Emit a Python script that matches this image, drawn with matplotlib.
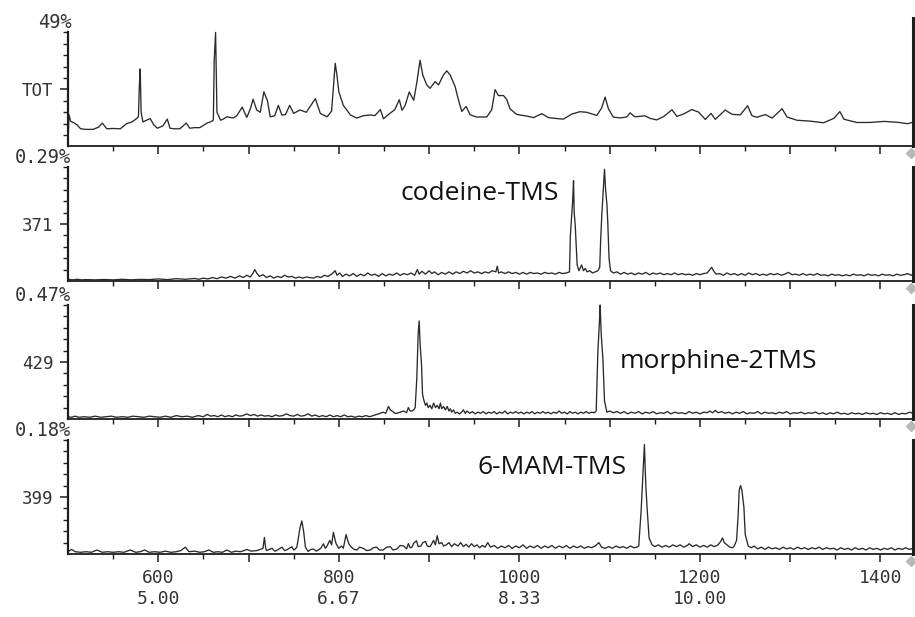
import matplotlib.pyplot as plt
import numpy as np
from matplotlib.ticker import FixedLocator

# scan range and axis labels
x_min, x_max = 500, 1436
x_major = [600, 700, 800, 900, 1000, 1100, 1200, 1300, 1400]
x_minor = [550, 650, 750, 850, 950, 1050, 1150, 1250, 1350]
x_labels = ['600\n5.00', '', '800\n6.67', '', '1000\n8.33', '', '1200\n10.00', '', '1400']

panel_top = ['49%', '0.29%', '0.47%', '0.18%']
panel_name = ['TOT', '371', '429', '399']
peak_names = ['', 'codeine-TMS', 'morphine-2TMS', '6-MAM-TMS']

# traces: (scan, % of full scale)
tot = [(500, 0), (501, 28), (503, 22), (506, 21), (510, 19), (514, 15.5), (520, 15), (528, 15),
       (534, 17), (538, 20.5), (543, 15.5), (550, 15.8), (558, 15.5), (565, 20), (571, 21.5),
       (576, 24.5), (578, 26), (579, 52), (580, 68), (581, 30), (583, 21.5), (587, 23),
       (591, 24.5), (595, 19), (599, 16), (605, 18), (610, 24), (613, 16), (618, 15.5),
       (624, 15.5), (631, 20.5), (635, 16), (640, 16.5), (646, 16.5), (654, 20.5), (659, 22),
       (661, 23), (662, 76), (663.5, 100), (665, 30), (669, 23), (672, 24), (676, 26), (683, 25),
       (687, 27), (693, 34.5), (698, 25.5), (702, 33), (705, 41.5), (709, 32), (713, 30),
       (717, 48), (719, 44), (721, 40), (724, 26), (729, 27), (733, 36), (737, 27.5), (741, 28),
       (745.5, 36), (750, 29), (757, 32), (764, 30), (774, 42), (779.5, 29), (787, 26), (792, 31),
       (796, 73), (798, 62), (800, 48), (805, 36), (813, 27.5), (820, 24.9), (827, 27),
       (835, 27.6), (840, 27.1), (846, 32.4), (849.5, 24.3), (857, 29.3), (862, 32.3), (867, 41),
       (870, 31.7), (873.5, 36.1), (878, 47.8), (883, 40.5), (886.5, 56.6), (890, 75.7),
       (893, 62.6), (897.5, 53.9), (901, 51), (906.7, 56.9), (910.4, 54), (916, 62.8),
       (919.6, 66.3), (923.3, 62.8), (928.8, 52.6), (932.5, 40.9), (936.2, 30.7), (941, 35.1),
       (945.4, 27.8), (952.8, 25.8), (963.9, 25.9), (969.4, 32.3), (973.1, 49.9), (976.8, 44.6),
       (982.3, 44.7), (986, 41.2), (989.7, 33), (997, 28.1), (1008, 26.7), (1015.6, 25.3),
       (1024.8, 28.8), (1032.2, 25.3), (1041.4, 24.5), (1048.8, 24), (1058, 28.4), (1067, 30.5),
       (1074.6, 30), (1085.7, 27.2), (1091, 33.6), (1095, 43.3), (1098.6, 33.1), (1104, 25.8),
       (1111.5, 25), (1119, 25.9), (1122.6, 29.5), (1128, 26), (1132, 26.3), (1139, 26.9),
       (1145, 24.6), (1152, 23.3), (1160, 26.3), (1169, 32.2), (1174.5, 26.4), (1182, 28.5),
       (1191, 32.4), (1198.6, 30.1), (1206, 23.7), (1212.3, 29), (1217, 23.8), (1228, 32),
       (1235.5, 28.2), (1244.7, 27.7), (1252.8, 35.7), (1257.6, 27), (1263, 25.6), (1272.5, 28),
       (1280, 24.9), (1291, 33.1), (1296.5, 25.8), (1307.6, 23), (1322.4, 22.2), (1337, 20.8),
       (1348.4, 24.7), (1355, 30.6), (1359.5, 23.9), (1374, 21), (1389, 21.1), (1404, 22),
       (1419, 21.2), (1430, 20), (1436, 21.2)]

ion371 = [(500, 1.5), (505, 1), (510, 1.5), (515, 1), (520, 1.2), (530, 1), (540, 1.3), (550, 1),
          (560, 1.5), (570, 1), (580, 1.4), (590, 1.2), (600, 1.8), (610, 1.2), (620, 2), (630, 1.5),
          (640, 2.2), (645, 1.5), (650, 2.5), (655, 1.8), (660, 3), (665, 2), (670, 3.5), (675, 2.5),
          (680, 4), (685, 2.5), (690, 4.5), (694, 3), (698, 5), (702, 3.5), (705, 7), (707, 10),
          (709, 7), (712, 4), (716, 5.5), (720, 3), (724, 4.5), (728, 2.5), (732, 4), (736, 3),
          (740, 5), (744, 3.5), (748, 4), (752, 2.5), (756, 3.5), (760, 2.5), (764, 3.5), (768, 3),
          (772, 2.5), (776, 4), (780, 3), (784, 5), (788, 4), (792, 6), (796, 9), (798, 5), (801, 7),
          (804, 4), (808, 6), (812, 4.5), (816, 6.5), (820, 4), (824, 6), (828, 4.5), (832, 7),
          (836, 5), (840, 6), (844, 4), (848, 6.5), (852, 4.5), (856, 6), (860, 5), (864, 7),
          (868, 5), (872, 6.5), (876, 5.5), (880, 7), (884, 5), (887, 10), (889, 6), (892, 8.5),
          (896, 6), (900, 9), (903, 6.5), (906, 8), (910, 5.5), (914, 7.5), (918, 6), (922, 8),
          (926, 6), (930, 8), (934, 6.5), (938, 8.5), (942, 7), (946, 9), (950, 7), (954, 8),
          (958, 6.5), (962, 8), (966, 7), (970, 9), (974, 8), (975.5, 13), (977, 7), (980, 8),
          (984, 6.5), (988, 8), (992, 6.5), (996, 7.5), (1000, 6), (1004, 7.5), (1008, 6),
          (1012, 7.5), (1016, 6.5), (1020, 7), (1024, 6), (1028, 7.5), (1032, 6.5), (1036, 7),
          (1040, 6), (1044, 7.5), (1048, 6.5), (1052, 7), (1055.5, 8), (1056.5, 40), (1057.5, 52),
          (1059, 70), (1060, 88), (1060.7, 60), (1061.8, 50), (1063, 30), (1064, 14), (1066, 9),
          (1069, 14), (1071, 9), (1073, 11), (1075, 8), (1078, 9), (1081, 7), (1084, 8), (1087, 9),
          (1089, 12), (1090, 35), (1091.3, 58), (1093, 80), (1094.3, 98), (1095.5, 80), (1097, 67),
          (1098, 50), (1099.3, 20), (1101, 9), (1104, 7), (1108, 8), (1112, 6), (1116, 7.5),
          (1120, 6), (1124, 7), (1128, 5.5), (1132, 7), (1136, 6), (1140, 7.5), (1144, 5.5),
          (1148, 7), (1152, 6), (1156, 7), (1160, 5.5), (1164, 6.5), (1168, 5.5), (1172, 7),
          (1176, 5.5), (1180, 6.5), (1184, 5.5), (1188, 6), (1192, 5), (1196, 6.5), (1200, 5.5),
          (1204, 6.5), (1208, 7), (1211, 10), (1213, 12), (1215, 9), (1218, 6), (1222, 6.5),
          (1226, 5), (1230, 7), (1234, 5.5), (1238, 6.5), (1242, 5), (1246, 6.5), (1250, 5),
          (1254, 7), (1258, 5.5), (1262, 6.5), (1266, 5), (1270, 6), (1274, 5), (1278, 6.5),
          (1282, 5.5), (1286, 6.5), (1290, 5), (1294, 6), (1298, 7.5), (1302, 5.5), (1306, 6),
          (1310, 5), (1314, 6.5), (1318, 5), (1322, 6), (1326, 5), (1330, 6.5), (1334, 5),
          (1338, 5.5), (1342, 4.5), (1346, 6), (1350, 5), (1354, 5.5), (1358, 4.5), (1362, 5.5),
          (1366, 4.5), (1370, 6), (1374, 5), (1378, 5.5), (1382, 4.5), (1386, 6), (1390, 5),
          (1394, 5.5), (1398, 4.5), (1402, 6), (1406, 5), (1410, 5.5), (1414, 4.5), (1418, 6),
          (1422, 5), (1426, 5.5), (1430, 6.5), (1434, 5), (1436, 6)]

ion429 = [(500, 2), (504, 1.5), (508, 2.5), (512, 1.5), (518, 2), (524, 1.5), (530, 2.5), (536, 1.5),
          (542, 2), (548, 2.5), (554, 1.5), (560, 2), (566, 1.5), (572, 2.5), (578, 2), (584, 1.5),
          (590, 2.5), (596, 2), (602, 1.5), (608, 2.5), (614, 1.5), (620, 3), (626, 2), (632, 2.5),
          (638, 1.5), (644, 3), (650, 2), (654, 4), (658, 2.5), (662, 3), (666, 2), (670, 3.5),
          (674, 2), (678, 3), (682, 2), (686, 3.5), (690, 2.5), (694, 3), (698, 4.5), (702, 3),
          (706, 4), (710, 2.5), (714, 3.5), (718, 2.5), (722, 3), (726, 2), (730, 3.5), (734, 2.5),
          (738, 3), (742, 4.5), (746, 3), (750, 2.5), (754, 4), (758, 2.5), (762, 3), (766, 4.5),
          (770, 2.5), (774, 3.5), (778, 2), (782, 3), (786, 2), (790, 3.5), (794, 2), (798, 3),
          (802, 2), (806, 3.5), (810, 2), (814, 2.5), (818, 1.5), (822, 2.5), (826, 2), (830, 3),
          (834, 2), (838, 3), (842, 4), (846, 5), (849, 6), (852, 5), (855, 11), (857, 8), (859, 7),
          (862, 5), (864, 5), (868, 6), (872, 7), (875, 5.5), (877, 10), (879, 7), (881, 7),
          (883, 8), (884.6, 10), (886.4, 36), (887.9, 75), (889, 86), (890.1, 65), (891.6, 48),
          (892.7, 22), (894, 17), (896, 12), (897.5, 14), (899, 10), (901, 12), (903, 9), (905, 14),
          (907, 10), (909, 12), (911, 9), (912.5, 14), (914, 9), (916, 11), (918, 8), (920, 11),
          (922, 7), (923.5, 9), (925, 6), (927, 8), (929, 5), (931, 6), (934, 4.5), (936, 6),
          (938, 8), (940, 5), (942, 7), (945, 5), (948, 6.5), (951, 4.5), (954, 6), (957, 5),
          (960, 6.5), (963, 4.5), (966, 6), (969, 5), (972, 6.5), (975, 4.5), (978, 6), (981, 5),
          (984, 7), (987, 4.5), (990, 6), (993, 5), (996, 6.5), (999, 5), (1002, 6), (1005, 4.5),
          (1008, 6), (1011, 5), (1014, 6.5), (1017, 4.5), (1020, 6), (1023, 5), (1026, 6.5),
          (1029, 5), (1032, 6), (1035, 4.5), (1038, 6), (1041, 5), (1044, 7), (1047, 5), (1050, 6),
          (1053, 4.5), (1056, 6.5), (1059, 5), (1062, 6), (1065, 4.5), (1068, 6), (1071, 5),
          (1074, 6.5), (1077, 5), (1080, 6), (1083, 5.5), (1085.1, 7), (1086.9, 58), (1088.8, 87),
          (1089.5, 100), (1090.6, 75), (1092.5, 53), (1094.3, 16), (1096.9, 6), (1100, 7),
          (1104, 5.5), (1108, 6.5), (1112, 5), (1116, 6.5), (1120, 4.5), (1124, 6), (1128, 5),
          (1132, 6.5), (1136, 4.5), (1140, 6), (1144, 5), (1148, 6.5), (1152, 4.5), (1156, 5.5),
          (1160, 5), (1164, 6.5), (1168, 4.5), (1172, 6), (1176, 5), (1180, 5.5), (1184, 4.5),
          (1188, 6.5), (1192, 5), (1196, 6), (1200, 4.5), (1204, 6), (1208, 5.5), (1211, 7),
          (1214, 5.5), (1217, 7.5), (1220, 5.5), (1224, 6.5), (1228, 5), (1232, 6), (1236, 4.5),
          (1240, 6), (1244, 5), (1248, 6.5), (1252, 4.5), (1256, 5.5), (1260, 5), (1264, 6.5),
          (1268, 4.5), (1272, 6), (1276, 5), (1280, 5.5), (1284, 4.5), (1288, 6), (1292, 5),
          (1296, 6.5), (1300, 4.5), (1304, 5.5), (1308, 5), (1312, 6), (1316, 4.5), (1320, 5.5),
          (1324, 5), (1328, 6), (1332, 4.5), (1336, 5.5), (1340, 4), (1344, 5.5), (1348, 4.5),
          (1352, 6), (1356, 4.5), (1360, 5), (1364, 4), (1368, 5.5), (1372, 4.5), (1376, 5),
          (1380, 4), (1384, 5.5), (1388, 4.5), (1392, 5), (1396, 4), (1400, 5.5), (1404, 4.5),
          (1408, 5), (1412, 4), (1416, 5.5), (1420, 4), (1424, 5), (1428, 4.5), (1432, 6), (1436, 5)]

ion399 = [(500, 2), (504, 4), (508, 2), (514, 1.5), (520, 2), (526, 1.5), (532, 3.5), (538, 1.5),
          (544, 2), (550, 1.5), (556, 2), (562, 1.5), (569, 3.5), (575, 1.5), (580, 2), (585, 3.5),
          (590, 1.5), (596, 2), (602, 1.5), (608, 2.5), (614, 1.5), (620, 2), (625, 3), (630, 6),
          (634, 2), (640, 2.5), (646, 1.5), (651, 2), (656, 3.5), (661, 1.5), (666, 2), (671, 1.5),
          (676, 3.5), (681, 1.5), (686, 2.5), (691, 2), (695, 3), (698, 4), (703, 2.5), (709, 3),
          (713, 4), (716, 5), (717.6, 14.5), (719, 5), (720, 3), (723, 4), (726, 5), (729, 2.5),
          (731, 3), (734, 4.5), (737, 6), (740, 3), (742, 3.5), (745, 5), (748, 6.4), (750, 3.5),
          (751.6, 4.3), (753.5, 6), (755, 13), (757, 23), (759, 29), (761, 20), (763, 6),
          (766, 2.3), (769, 4), (772, 4.3), (775, 2.5), (777, 3.5), (780, 5), (783, 9), (785, 5),
          (787, 7), (790, 12), (792, 8), (794, 19), (796, 12), (797, 9), (800, 5), (803, 7),
          (805, 5), (808, 17), (809.5, 13), (811, 9), (814, 6), (817, 4), (820, 3.5), (823, 6),
          (827, 5), (831, 3), (835, 3.5), (838, 5.5), (842, 6), (845, 3.5), (849, 3.5), (853, 6),
          (857, 6.4), (860, 3.5), (864, 4.3), (868, 7.5), (872, 7), (875, 4.5), (877, 9),
          (879, 5.5), (881, 6), (883, 9.5), (886, 11.6), (888, 6.5), (891, 7), (893, 10), (896, 11),
          (898, 7), (901, 6.4), (903, 9), (905, 12), (907, 8), (909, 16), (911, 9), (914, 10),
          (916, 7), (919, 8), (922, 10), (925, 6.4), (928, 9), (932, 7), (935, 10), (938, 6.5),
          (941, 8.5), (944, 6), (947, 9), (950, 6.5), (953, 8), (956, 5.5), (959, 7.5), (962, 6),
          (965, 10), (968, 6), (972, 7.5), (976, 5), (980, 7), (984, 5.5), (988, 7.5), (992, 5),
          (996, 7), (1000, 5.5), (1004, 8), (1008, 5), (1012, 7), (1016, 5.5), (1020, 7.5),
          (1024, 5), (1028, 7), (1032, 5.5), (1036, 7.5), (1040, 5), (1044, 7), (1048, 5.5),
          (1052, 7.5), (1056, 5), (1060, 7), (1064, 5.5), (1068, 7), (1072, 5), (1076, 6.5),
          (1080, 5.5), (1084, 7), (1088, 10), (1091, 6), (1095, 5), (1099, 6.5), (1103, 5),
          (1107, 7), (1111, 5.5), (1115, 6.5), (1119, 5), (1123, 7), (1127, 5.5), (1130, 6),
          (1132.2, 7), (1134.8, 37), (1136.3, 61), (1138.5, 96), (1140, 61), (1141.5, 40),
          (1143.7, 14), (1147, 8), (1150, 6.5), (1154, 8), (1158, 6), (1162, 7.5), (1166, 6),
          (1170, 8), (1174, 6.5), (1178, 8), (1182, 6), (1186, 7.5), (1188, 9), (1192, 6.5),
          (1196, 8), (1200, 6), (1204, 7.5), (1208, 6), (1212, 8), (1216, 6.5), (1220, 8),
          (1223, 11), (1225, 14), (1227, 10), (1230, 8), (1233, 6), (1236, 5.5), (1238, 7),
          (1240.6, 12), (1242.4, 35), (1243.5, 56), (1245, 60), (1246.5, 56), (1248.7, 41),
          (1250.2, 17), (1253.5, 7), (1257, 5.5), (1260, 7), (1264, 4.5), (1268, 6), (1272, 4),
          (1276, 6), (1280, 4.5), (1284, 5.5), (1288, 4), (1292, 6), (1296, 4.5), (1300, 5.5),
          (1304, 4), (1308, 6), (1312, 4.5), (1316, 5.5), (1320, 4), (1324, 5.5), (1328, 4.5),
          (1332, 6), (1336, 4), (1340, 5.5), (1344, 4.5), (1348, 5), (1352, 3.5), (1356, 5.5),
          (1360, 4), (1364, 5), (1368, 3.5), (1372, 5.5), (1376, 4), (1380, 5), (1384, 3.5),
          (1388, 5.5), (1392, 4), (1396, 5), (1400, 3.5), (1404, 5), (1408, 4), (1412, 5.5),
          (1416, 3.5), (1420, 5), (1424, 4), (1428, 5.5), (1432, 4), (1436, 5)]

traces = [tot, ion371, ion429, ion399]
# where the compound name sits in its panel (axes fraction)
name_pos = [None, (0.393, 0.77), (0.653, 0.50), (0.485, 0.755)]

mono = 'DejaVu Sans Mono'
ink = '#2a2a2a'

fig = plt.figure(figsize=(9.15, 6.17), dpi=100)
bottoms = [0.7626, 0.5446, 0.3209, 0.1021]
for i in range(4):
    ax = fig.add_axes([0.0743, bottoms[i], 0.9235, 0.1848])
    s, v = np.array(traces[i]).T
    ax.plot(s, v, color=ink, lw=0.95, clip_on=False)
    ax.set_xlim(x_min, x_max)
    ax.set_ylim(0, 100)

    ax.spines['top'].set_visible(False)
    ax.spines['left'].set_linewidth(1.6)
    ax.spines['bottom'].set_linewidth(1.3)
    ax.spines['right'].set_linewidth(2.2)
    for sp in ['left', 'bottom', 'right']:
        ax.spines[sp].set_color('#1e1e1e')

    ax.xaxis.set_major_locator(FixedLocator(x_major))
    ax.xaxis.set_minor_locator(FixedLocator(x_minor))
    ax.yaxis.set_major_locator(FixedLocator([50]))
    ax.yaxis.set_minor_locator(FixedLocator([10, 20, 30, 40, 60, 70, 80, 90, 100]))
    ax.tick_params(which='major', length=6, width=1.1, color='#1e1e1e')
    ax.tick_params(which='minor', length=3.5, width=1.0, color='#1e1e1e')
    ax.tick_params(axis='y', which='both', right=False)
    ax.tick_params(axis='y', pad=4.5)
    ax.set_yticklabels([panel_name[i]], fontfamily=mono, fontsize=12.5, color='#333333')

    if i == 3:
        ax.set_xticklabels(x_labels, fontfamily=mono, fontsize=13, color='#333333',
                           linespacing=1.2)
        ax.tick_params(axis='x', pad=5)
    else:
        ax.set_xticklabels([])

    # full-scale label above the y axis
    ax.text(0.004, 1.085, panel_top[i], transform=ax.transAxes, ha='right', va='center',
            fontfamily=mono, fontsize=13.5, color='#333333')
    # little grey marker at the end of each time axis
    ax.plot([0.9975], [-0.06], marker='D', ms=5, color='#b8b8b8', transform=ax.transAxes,
            clip_on=False)
    if i == 0:
        ax.plot([1, 1], [1, 1.13], color='#1e1e1e', lw=2.2, transform=ax.transAxes,
                clip_on=False)
    if name_pos[i] is not None:
        ax.text(name_pos[i][0], name_pos[i][1], peak_names[i], transform=ax.transAxes,
                ha='left', va='center', fontfamily='Open Sans', fontsize=19, color='#111111')

fig.savefig('out.png', dpi=100)
